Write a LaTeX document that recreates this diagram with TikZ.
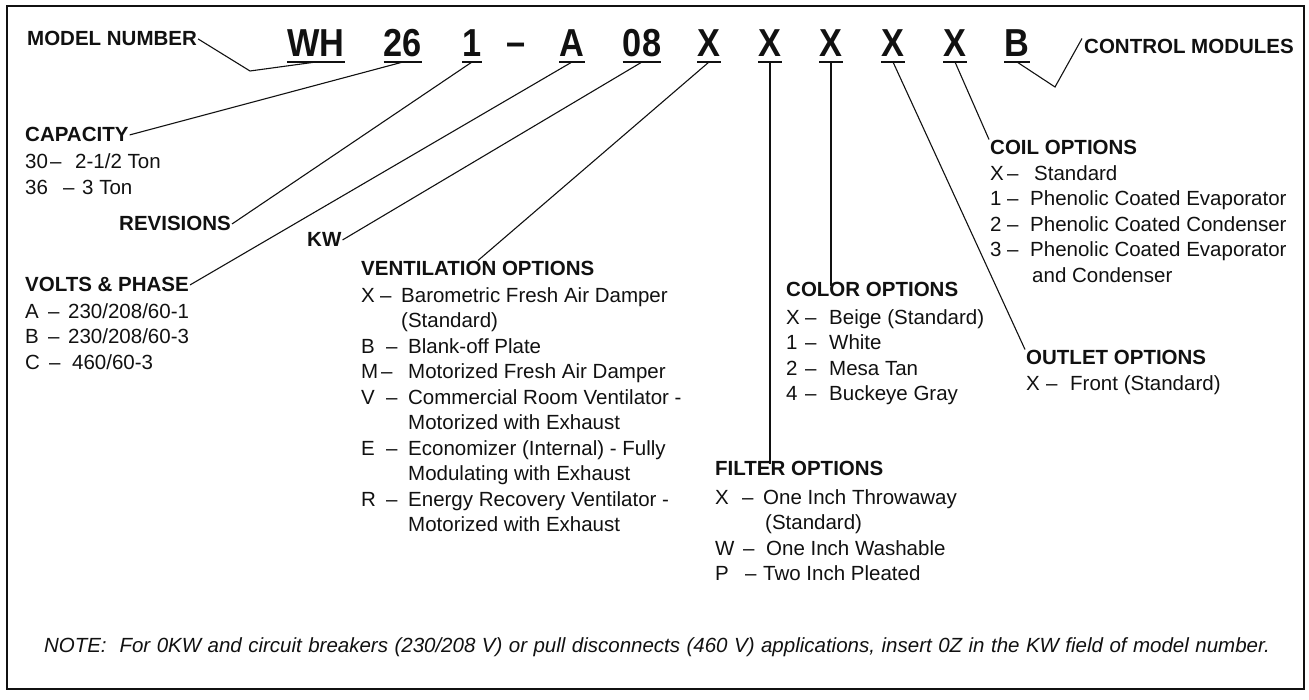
\documentclass[tikz,border=0pt]{standalone}
\usepackage{fontspec}
\setmainfont{Liberation Sans}
\newfontfamily\modelfont[FakeStretch=0.88]{Liberation Sans}
\usetikzlibrary{positioning, calc}
\definecolor{whInk}{HTML}{111111}

% letter, dash and text of one option line
\newcommand{\optln}[4]{\makebox[#1pt][l]{#2}\makebox[#3pt][l]{–}#4}

\begin{document}
\begin{tikzpicture}[
    x=1pt, y=-1pt,
    every node/.style={text=whInk, inner sep=0pt},
    digit/.style={font=\modelfont\bfseries\fontsize{39}{42}\selectfont, anchor=base},
    heading/.style={font=\bfseries\fontsize{20.5}{25.5}\selectfont, anchor=base west, inner sep=1pt},
    optlist/.style={font=\fontsize{20.5}{25.5}\selectfont, align=left, anchor=north west},
    leader/.style={draw=whInk, line width=1.1pt},
    uline/.style={draw=whInk, line width=2pt},
    notestyle/.style={font=\itshape\fontsize{20.5}{24}\selectfont, anchor=base}
]
\useasboundingbox (0,0) rectangle (1309,700);
\draw[line width=1.8pt, draw=whInk] (7,6) rectangle (1304,689);

% Model number: WH 26 1 - A 08 X X X X X B
\node[digit] (wh) at (316,57) {WH};
\node[digit] (cap) at (403,57) {26};
\node[digit] (rev) at (472,57) {1};
\node[digit] (sep) at (516,56) {–};
\node[digit] (vph) at (572,57) {A};
\node[digit] (kw) at (642,57) {08};
\node[digit] (vent) at (709,57) {X};
\node[digit] (filt) at (770,57) {X};
\node[digit] (colr) at (831,57) {X};
\node[digit] (outl) at (893,57) {X};
\node[digit] (coil) at (955,57) {X};
\node[digit] (ctrl) at (1017,57) {B};

% Underlines
\draw[uline] ([yshift=-5pt]wh.base west) -- ([yshift=-5pt]wh.base east);
\draw[uline] ([yshift=-5pt]cap.base west) -- ([yshift=-5pt]cap.base east);
\draw[uline] ([yshift=-5pt]rev.base west) -- ([yshift=-5pt]rev.base east);
\draw[uline] ([yshift=-5pt]vph.base west) -- ([yshift=-5pt]vph.base east);
\draw[uline] ([yshift=-5pt]kw.base west) -- ([yshift=-5pt]kw.base east);
\draw[uline] ([yshift=-5pt]vent.base west) -- ([yshift=-5pt]vent.base east);
\draw[uline] ([yshift=-5pt]filt.base west) -- ([yshift=-5pt]filt.base east);
\draw[uline] ([yshift=-5pt]colr.base west) -- ([yshift=-5pt]colr.base east);
\draw[uline] ([yshift=-5pt]outl.base west) -- ([yshift=-5pt]outl.base east);
\draw[uline] ([yshift=-5pt]coil.base west) -- ([yshift=-5pt]coil.base east);
\draw[uline] ([yshift=-5pt]ctrl.base west) -- ([yshift=-5pt]ctrl.base east);

% Headings
\node[heading] (mnum) at (26,46) {MODEL NUMBER};
\node[heading] (ctrlhd) at (1083,54) {CONTROL MODULES};
\node[heading] (caphd) at (24,142) {CAPACITY};
\node[heading] (revhd) at (118,231) {REVISIONS};
\node[heading] (kwhd) at (306,247) {KW};
\node[heading] (vphhd) at (24,292) {VOLTS \& PHASE};
\node[heading] (venthd) at (360,276) {VENTILATION OPTIONS};
\node[heading] (coilhd) at (989,155) {COIL OPTIONS};
\node[heading] (colrhd) at (785,297) {COLOR OPTIONS};
\node[heading] (outlhd) at (1025,365) {OUTLET OPTIONS};
\node[heading] (filthd) at (714,475) {FILTER OPTIONS};

% Option lists under the headings
\node[optlist] (capopts) at ($(caphd.base west)+(1,11.6)$) {%
    \optln{25}{30}{25}{2-1/2 Ton}\\
    \optln{38}{36}{19}{3 Ton}};
\node[optlist] (vphopts) at ($(vphhd.base west)+(1,11)$) {%
    \optln{23}{A}{20}{230/208/60-1}\\
    \optln{23}{B}{20}{230/208/60-3}\\
    \optln{24}{C}{23}{460/60-3}};
\node[optlist] (ventopts) at ($(venthd.base west)+(1,11)$) {%
    \optln{19}{X}{21}{Barometric Fresh Air Damper}\\
    \hspace*{40pt}(Standard)\\
    \optln{25}{B}{22}{Blank-off Plate}\\
    \optln{20}{M}{27}{Motorized Fresh Air Damper}\\
    \optln{25}{V}{22}{Commercial Room Ventilator -}\\
    \hspace*{47pt}Motorized with Exhaust\\
    \optln{25}{E}{22}{Economizer (Internal) - Fully}\\
    \hspace*{47pt}Modulating with Exhaust\\
    \optln{25}{R}{22}{Energy Recovery Ventilator -}\\
    \hspace*{47pt}Motorized with Exhaust};
\node[optlist] (coilopts) at ($(coilhd.base west)+(1,10)$) {%
    \optln{17}{X}{27}{Standard}\\
    \optln{17}{1}{23}{Phenolic Coated Evaporator}\\
    \optln{17}{2}{23}{Phenolic Coated Condenser}\\
    \optln{17}{3}{23}{Phenolic Coated Evaporator}\\
    \hspace*{42pt}and Condenser};
\node[optlist] (colropts) at ($(colrhd.base west)+(1,12)$) {%
    \optln{19}{X}{24}{Beige (Standard)}\\
    \optln{19}{1}{24}{White}\\
    \optln{19}{2}{24}{Mesa Tan}\\
    \optln{19}{4}{24}{Buckeye Gray}};
\node[optlist] (outlopts) at ($(outlhd.base west)+(1,10)$) {%
    \optln{20}{X}{24}{Front (Standard)}};
\node[optlist] (filtopts) at ($(filthd.base west)+(1,14)$) {%
    \optln{27}{X}{21}{One Inch Throwaway}\\
    \hspace*{50pt}(Standard)\\
    \optln{28}{W}{23}{One Inch Washable}\\
    \optln{30}{P}{18}{Two Inch Pleated}};

% Leaders
\coordinate (mknee) at (250,71);
\coordinate (cknee) at (1055,87);
\draw[leader] (mnum.east) -- (mknee) -- ([yshift=-5pt]wh.base);
\draw[leader] ([yshift=-5pt]ctrl.base) -- (cknee) -- ([xshift=-1pt]ctrlhd.north west);
\draw[leader] (caphd.east) -- ([yshift=-5pt]cap.base);
\draw[leader] (revhd.east) -- ([yshift=-5pt]rev.base);
\draw[leader] (vphhd.east) -- ([yshift=-5pt]vph.base);
\draw[leader] (kwhd.east) -- ([yshift=-5pt]kw.base);
\draw[leader] ([yshift=-5pt]vent.base) -- ($(venthd.north west)+(118,0)$);
\draw[leader] ([yshift=-5pt]filt.base) -- ([yshift=-5pt]filt.base |- filthd.north);
\draw[leader] ([yshift=-5pt]colr.base) -- ([yshift=-5pt]colr.base |- colrhd.north);
\draw[leader] ([yshift=-5pt]outl.base) -- (outlhd.north west);
\draw[leader] ([yshift=-5pt]coil.base) -- (coilhd.north west);

% Note
\node[notestyle] (note) at (657,652) {\makebox[1226pt][s]{NOTE:\ \ For 0KW and circuit breakers (230/208 V) or pull disconnects (460 V) applications, insert 0Z in the KW field of model number.}};

\end{tikzpicture}
\end{document}
